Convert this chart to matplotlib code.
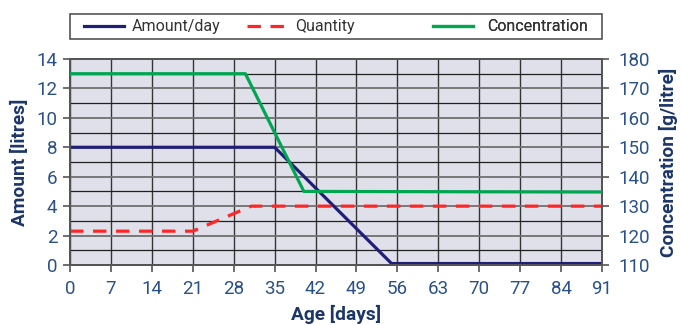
import numpy as np
import matplotlib.pyplot as plt
from matplotlib.ticker import MultipleLocator
from matplotlib.patches import Rectangle

plt.rcParams['font.family'] = ['Roboto', 'DejaVu Sans']

# data
age_amount = [0, 35, 55, 91]
amount_day = [8, 8, 0.1, 0.1]
age_quantity = [0, 21, 31, 91]
quantity = [2.3, 2.3, 4.0, 4.0]
age_conc = [0, 30, 40, 91]
concentration = [175, 175, 135, 134.8]

tick_col = '#2a5288'
label_col = '#1c3668'

fig = plt.figure(figsize=(6.81, 3.25), dpi=100)
ax = fig.add_axes([0.1028, 0.1846, 0.7812, 0.6339])
ax.set_facecolor('#e0e0ea')

ax.plot(age_amount, amount_day, color='#1f1f78', lw=2.3, label='Amount/day', zorder=4)
ax.plot(age_quantity, quantity, color='#ff2626', lw=2.3, dashes=(4.2, 3.0), label='Quantity', zorder=4)

ax2 = ax.twinx()
ax2.plot(age_conc, concentration, color='#00a651', lw=2.3, label='Concentration', zorder=4)

ax.set_xlim(0, 91)
ax.set_ylim(0, 14)
ax2.set_ylim(110, 180)
ax.xaxis.set_major_locator(MultipleLocator(7))
ax.yaxis.set_major_locator(MultipleLocator(2))
ax.yaxis.set_minor_locator(MultipleLocator(1))
ax2.yaxis.set_major_locator(MultipleLocator(10))

ax.grid(True, which='major', axis='y', color='#707070', lw=1.3)
ax.grid(True, which='minor', axis='y', color='#202020', lw=0.9)
ax.grid(True, which='major', axis='x', color='#353535', lw=1.0)
ax.set_axisbelow(True)

for a in (ax, ax2):
    for s in a.spines.values():
        s.set_color('#555555')
        s.set_linewidth(1.4)
    a.tick_params(colors='#555555', labelcolor=tick_col, labelsize=13.5, length=5, width=1.2, pad=4)
ax.tick_params(which='minor', length=0)
ax.tick_params(axis='x', pad=6)
ax2.tick_params(axis='y', pad=7)

ax.set_xlabel('Age [days]', fontsize=13.8, fontweight='bold', color=label_col, labelpad=5)
ax.set_ylabel('Amount [litres]', fontsize=13.8, fontweight='bold', color=label_col, labelpad=5)
ax2.set_ylabel('Concentration [g/litre]', fontsize=13.8, fontweight='bold', color=label_col, labelpad=6)

# legend box across the full plot width, one entry per slot
handles = ax.get_legend_handles_labels()[0] + ax2.get_legend_handles_labels()[0]
labels = ax.get_legend_handles_labels()[1] + ax2.get_legend_handles_labels()[1]
slots = [0.026, 0.333, 0.682]
pads = [0.5, 0.5, 0.9]
for h, l, xs, tp in zip(handles, labels, slots, pads):
    leg = ax.legend([h], [l], loc='center left', bbox_to_anchor=(xs, 1.157),
                    fontsize=11.5, handlelength=2.5, frameon=False,
                    borderaxespad=0, borderpad=0, handletextpad=tp)
    leg.get_texts()[0].set_color('#333333')
    ax.add_artist(leg)
ax.add_patch(Rectangle((0, 1.097), 1, 0.122, transform=ax.transAxes, fill=False,
                       edgecolor='#555555', lw=1.2, clip_on=False))

fig.savefig('out.png', dpi=100)
